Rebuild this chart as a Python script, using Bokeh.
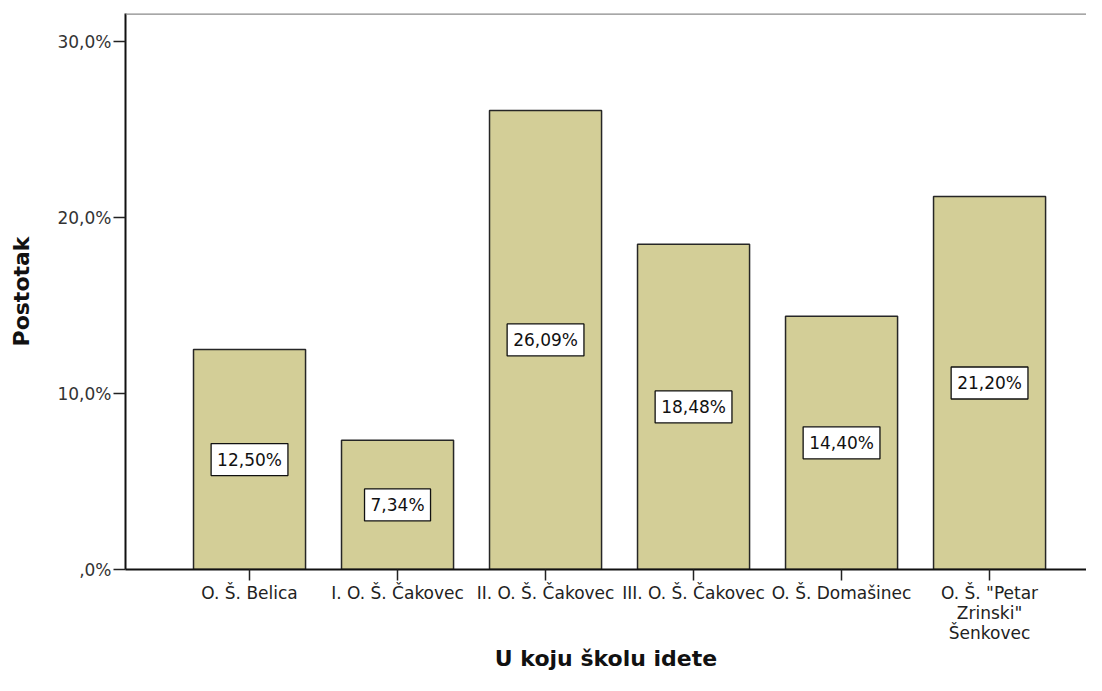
from bokeh.plotting import figure
from bokeh.models import Range1d, FixedTicker, Span
from bokeh.core.properties import value
from bokeh.embed import file_html
from bokeh.resources import INLINE

schools = ["O. Š. Belica", "I. O. Š. Čakovec", "II. O. Š. Čakovec",
           "III. O. Š. Čakovec", "O. Š. Domašinec", "O. Š. \"Petar\nZrinski\"\nŠenkovec"]
percent = [12.50, 7.34, 26.09, 18.48, 14.40, 21.20]
y_ticks = [0, 10, 20, 30]
y_tick_labels = [",0%", "10,0%", "20,0%", "30,0%"]
x_title = "U koju školu idete"
y_title = "Postotak"

positions = list(range(1, len(schools) + 1))
bar_labels = [f"{v:.2f}%".replace(".", ",") for v in percent]
label_y = [v / 2 for v in percent]

FONT = "DejaVu Sans"
X0, X1 = 0.162, 6.655
Y0, Y1 = 0, 31.6

p = figure(width=1086, height=675, output_backend="svg", toolbar_location=None,
           x_range=Range1d(X0, X1), y_range=Range1d(Y0, Y1),
           min_border_left=125, min_border_right=0, min_border_top=13,
           min_border_bottom=106)
p.outline_line_color = None
p.xgrid.grid_line_color = None
p.ygrid.grid_line_color = None
p.background_fill_color = "white"

p.add_layout(Span(location=Y1, dimension="width", line_color="#8a8a8a", line_width=2.5))

p.vbar(x=positions, top=percent, width=0.757, fill_color="#d3ce97",
       line_color="#262626", line_width=1.5)

p.text(x=positions, y=label_y, text=bar_labels, text_align="center",
       text_baseline="middle", text_font=value(FONT), text_font_size="17px",
       text_color="#111111", background_fill_color="white",
       border_line_color="#111111", border_line_width=1.3, padding=6)

# y axis
p.yaxis.ticker = FixedTicker(ticks=y_ticks)
p.yaxis.major_label_overrides = {t: l for t, l in zip(y_ticks, y_tick_labels)}
p.yaxis.minor_tick_line_color = None
p.yaxis.major_tick_out = 12
p.yaxis.major_tick_in = 0
p.yaxis.major_tick_line_color = "#222222"
p.yaxis.major_tick_line_width = 1.5
p.yaxis.axis_line_color = "#111111"
p.yaxis.axis_line_width = 2
p.yaxis.major_label_text_font = FONT
p.yaxis.major_label_text_font_size = "17px"
p.yaxis.major_label_text_color = "#333333"
p.yaxis.major_label_standoff = 2
p.yaxis.axis_label = y_title
p.yaxis.axis_label_text_font = FONT
p.yaxis.axis_label_text_font_size = "22px"
p.yaxis.axis_label_text_font_style = "bold"
p.yaxis.axis_label_text_color = "#111111"
p.yaxis.axis_label_standoff = 20

# x axis
p.xaxis.ticker = FixedTicker(ticks=positions)
p.xaxis.major_label_overrides = {i: s for i, s in zip(positions, schools)}
p.xaxis.minor_tick_line_color = None
p.xaxis.major_tick_out = 11
p.xaxis.major_tick_in = 0
p.xaxis.major_tick_line_color = "#222222"
p.xaxis.major_tick_line_width = 1.5
p.xaxis.axis_line_color = "#111111"
p.xaxis.axis_line_width = 2
p.xaxis.major_label_text_font = FONT
p.xaxis.major_label_text_font_size = "17px"
p.xaxis.major_label_text_line_height = 1.0
p.xaxis.major_label_text_color = "#222222"
p.xaxis.major_label_standoff = 2
p.xaxis.axis_label = x_title
p.xaxis.axis_label_text_font = FONT
p.xaxis.axis_label_text_font_size = "22px"
p.xaxis.axis_label_text_line_height = 1.0
p.xaxis.axis_label_text_font_style = "bold"
p.xaxis.axis_label_text_color = "#111111"
p.xaxis.axis_label_standoff = 0

open("out.html", "w").write(file_html(p, INLINE))
